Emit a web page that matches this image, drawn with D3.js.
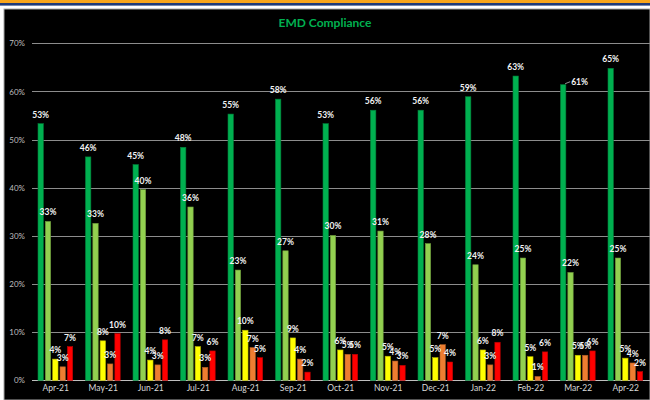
<!DOCTYPE html>
<html>
<head>
<meta charset="utf-8">
<script src="https://cdn.jsdelivr.net/npm/d3@7/dist/d3.min.js"></script>
<style>
html,body{margin:0;padding:0;background:#fff;}
svg{display:block;}
</style>
</head>
<body>
<svg id="chart" width="650" height="400"></svg>
<script>
const categories = ["Apr-21","May-21","Jun-21","Jul-21","Aug-21","Sep-21","Oct-21","Nov-21","Dec-21","Jan-22","Feb-22","Mar-22","Apr-22"];
const seriesNames = ["S1","S2","S3","S4","S5"];
const s1 = [53.3,46.4,44.8,48.4,55.3,58.4,53.3,56.1,56.1,58.9,63.2,61.4,64.8];
const s2 = [33.0,32.6,39.6,36.0,22.9,26.9,30.1,31.0,28.4,24.0,25.4,22.4,25.4];
const s3 = [4.4,8.2,4.2,7.0,10.4,8.8,6.3,5.0,4.7,6.3,4.9,5.2,4.6];
const s4 = [2.8,3.4,3.2,2.7,6.8,4.4,5.4,4.0,7.4,3.2,0.8,5.2,3.6];
const s5 = [7.0,9.7,8.4,6.1,4.7,1.7,5.4,3.1,3.8,7.9,5.9,6.1,1.8];
const yTicks = [0,10,20,30,40,50,60,70];
const title = "EMD Compliance";
const colors = ["#00B050","#92D050","#FFFF00","#ED7D31","#FF0000"];

const seriesValues = [s1,s2,s3,s4,s5];
const svg = d3.select("#chart");

// frame / header stripes
svg.append("rect").attr("x",0).attr("y",0).attr("width",650).attr("height",400).attr("fill","#ffffff");
svg.append("rect").attr("x",0).attr("y",0).attr("width",650).attr("height",3).attr("fill","#F8A51C");
svg.append("rect").attr("x",0).attr("y",3).attr("width",650).attr("height",2.6).attr("fill","#1F3B7B");
svg.append("rect").attr("x",4).attr("y",9).attr("width",646).attr("height",391).attr("fill","#000000")
  .attr("stroke","#a6a6a6").attr("stroke-width",1);

const x0 = d3.scaleBand().domain(categories).range([32, 649.5]).paddingInner(0).paddingOuter(0);
const x1 = d3.scaleBand().domain(seriesNames).range([6, 40.7]).paddingInner(0.27).paddingOuter(0);
const y = d3.scaleLinear().domain([0, 70]).range([380.3, 43.3]);

// title
svg.append("text").attr("x",325).attr("y",27).attr("text-anchor","middle")
  .attr("font-family","Lato, 'Open Sans', sans-serif").attr("font-weight","bold").attr("font-size",12)
  .attr("fill","#00B050").text(title);

// gridlines
svg.append("g").selectAll("line").data(yTicks).join("line")
  .attr("x1",32).attr("x2",650).attr("y1",d=>Math.round(y(d))+0.5).attr("y2",d=>Math.round(y(d))+0.5)
  .attr("stroke",d=>d===0?"#bfbfbf":"#8c8c8c").attr("stroke-width",1);

// y axis labels
const yAxis = d3.axisLeft(y).tickValues(yTicks).tickFormat(d=>d+"%").tickSize(0).tickPadding(0);
const gy = svg.append("g").attr("transform","translate(25,0)").call(yAxis);
gy.select(".domain").remove();
gy.selectAll("text").attr("font-family","Lato, 'Open Sans', sans-serif").attr("font-size",8).attr("fill","#bfbfbf");

// x axis labels
const xAxis = d3.axisBottom(x0).tickSize(0).tickPadding(0);
const gx = svg.append("g").attr("transform","translate(0,385)").call(xAxis);
gx.select(".domain").remove();
gx.selectAll("text").attr("font-family","Lato, 'Open Sans', sans-serif").attr("font-size",8.5).attr("fill","#d9d9d9");

// bars
const data = [];
categories.forEach((c,i)=>{
  seriesNames.forEach((s,j)=>{
    data.push({cat:c, ser:s, si:j, v:seriesValues[j][i]});
  });
});

svg.append("g").selectAll("rect").data(data).join("rect")
  .attr("x",d=>x0(d.cat)+x1(d.ser))
  .attr("width",x1.bandwidth())
  .attr("y",d=>y(d.v))
  .attr("height",d=>y(0)-y(d.v))
  .attr("fill",d=>colors[d.si])
  .attr("stroke",d=>d3.color(colors[d.si]).darker(0.9))
  .attr("stroke-width",0.6);

// labels
const lg = svg.append("g").attr("font-family","Lato, 'Open Sans', sans-serif").attr("font-weight","bold")
  .attr("font-size",8.5).attr("fill","#f2f2f2");
data.forEach(d=>{
  const cx = x0(d.cat)+x1(d.ser)+x1.bandwidth()/2;
  const ty = y(d.v);
  const label = Math.round(d.v)+"%";
  if (d.cat==="Mar-22" && d.si===0) {
    lg.append("line").attr("x1",cx+2).attr("y1",ty-1).attr("x2",cx+7).attr("y2",ty-3)
      .attr("stroke","#d9d9d9").attr("stroke-width",0.7);
    lg.append("text").attr("x",cx+8).attr("y",ty+0.5).attr("text-anchor","start").text(label);
  } else {
    lg.append("text").attr("x",cx).attr("y",ty-6).attr("text-anchor","middle").text(label);
  }
});
</script>
</body>
</html>
